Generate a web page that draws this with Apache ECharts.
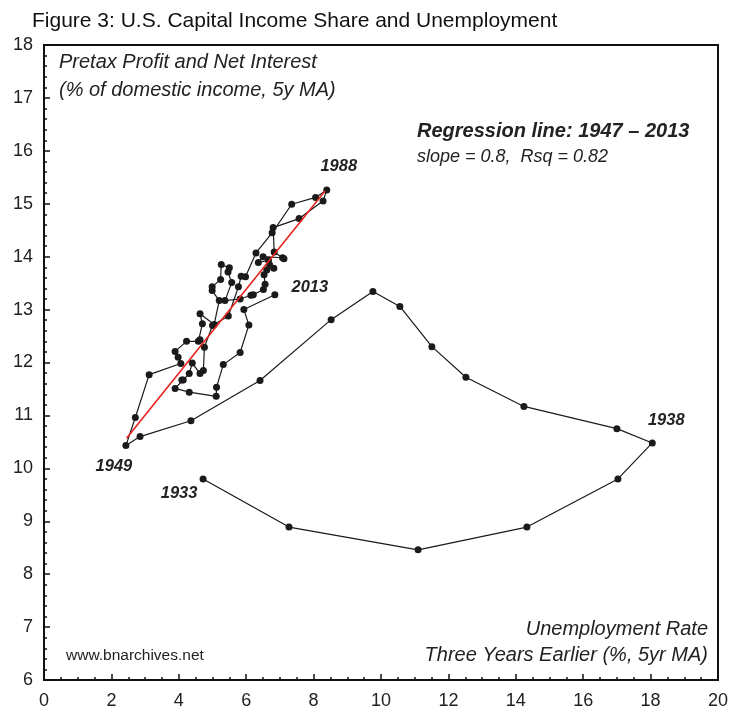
<!DOCTYPE html>
<html>
<head>
<meta charset="utf-8">
<script src="https://cdn.jsdelivr.net/npm/echarts@6/dist/echarts.min.js"></script>
<style>
  html, body { margin: 0; padding: 0; background: #fff; }
  #main { width: 732px; height: 715px; }
</style>
</head>
<body>
<div id="main"></div>
<script>
// years of the series (1933 - 2013)
var years = [1933, 1934, 1935, 1936, 1937, 1938, 1939, 1940, 1941, 1942,
  1943, 1944, 1945, 1946, 1947, 1948, 1949, 1950, 1951, 1952,
  1953, 1954, 1955, 1956, 1957, 1958, 1959, 1960, 1961, 1962,
  1963, 1964, 1965, 1966, 1967, 1968, 1969, 1970, 1971, 1972,
  1973, 1974, 1975, 1976, 1977, 1978, 1979, 1980, 1981, 1982,
  1983, 1984, 1985, 1986, 1987, 1988, 1989, 1990, 1991, 1992,
  1993, 1994, 1995, 1996, 1997, 1998, 1999, 2000, 2001, 2002,
  2003, 2004, 2005, 2006, 2007, 2008, 2009, 2010, 2011, 2012, 2013];

// unemployment rate three years earlier (%, 5yr MA)
var unemp = [4.72, 7.27, 11.1, 14.33, 17.03, 18.05, 17.0, 14.24, 12.52, 11.51,
  10.56, 9.76, 8.52, 6.41, 4.36, 2.85, 2.43, 2.71, 3.12, 4.06,
  3.98, 3.89, 4.23, 4.58, 4.63, 4.70, 4.63, 5.05, 5.20, 4.99,
  4.99, 5.24, 5.26, 5.50, 5.46, 5.57, 5.37, 5.82, 6.14, 6.21,
  6.51, 6.56, 6.53, 6.61, 6.82, 6.69, 6.66, 6.36, 6.50, 7.08,
  7.12, 6.83, 6.80, 7.57, 8.28, 8.39, 8.06, 7.35, 6.77, 6.29,
  5.98, 5.85, 5.77, 5.47, 5.00, 4.76, 4.73, 4.63, 4.40, 4.31,
  4.13, 4.09, 3.89, 4.31, 5.11, 5.12, 5.32, 5.82, 6.08, 5.93, 6.85];

// pretax profit and net interest (% of domestic income, 5y MA)
var capShare = [9.80, 8.89, 8.46, 8.89, 9.80, 10.48, 10.75, 11.17, 11.72, 12.30,
  13.06, 13.34, 12.81, 11.66, 10.90, 10.60, 10.43, 10.96, 11.77, 11.98,
  12.10, 12.21, 12.40, 12.40, 12.43, 12.73, 12.92, 12.72, 13.17, 13.36,
  13.43, 13.57, 13.85, 13.79, 13.71, 13.51, 13.17, 13.20, 13.27, 13.28,
  13.38, 13.48, 13.66, 13.75, 13.78, 13.85, 13.93, 13.89, 14.00, 13.98,
  13.96, 14.09, 14.55, 14.72, 15.05, 15.26, 15.12, 14.99, 14.45, 14.07,
  13.62, 13.63, 13.43, 12.88, 12.70, 12.29, 11.85, 11.79, 11.99, 11.79,
  11.67, 11.67, 11.51, 11.44, 11.36, 11.53, 11.96, 12.19, 12.71, 13.00, 13.28];

// regression line 1947 - 2013 (end points)
var regX = [2.45, 8.34];
var regY = [10.57, 15.24];

// years that get a label, with label offset
var labelYears = [1933, 1938, 1949, 1988, 2013];
var labelOffsets = {
  1933: [-24, 15],
  1938: [14, -22],
  1949: [-12, 21],
  1988: [12, -24],
  2013: [35, -7]
};

var xTicks = [0, 2, 4, 6, 8, 10, 12, 14, 16, 18, 20];
var yTicks = [6, 7, 8, 9, 10, 11, 12, 13, 14, 15, 16, 17, 18];

var FONT = 'Liberation Sans, Arial, Helvetica, sans-serif';

var pts = [];
for (var i = 0; i < years.length; i++) {
  var item = { value: [unemp[i], capShare[i], years[i]] };
  if (labelYears.indexOf(years[i]) >= 0) {
    item.label = {
      show: true,
      position: 'inside',
      offset: labelOffsets[years[i]],
      formatter: String(years[i]),
      fontFamily: FONT,
      fontStyle: 'italic',
      fontWeight: 'bold',
      fontSize: 16.5,
      color: '#222'
    };
  }
  pts.push(item);
}
var regLine = [];
for (var j = 0; j < regX.length; j++) regLine.push([regX[j], regY[j]]);

var myChart = echarts.init(document.getElementById('main'));
var option = {
  animation: false,
  backgroundColor: '#fff',
  title: {
    text: 'Figure 3: U.S. Capital Income Share and Unemployment',
    left: 27,
    top: 6,
    textStyle: { fontFamily: FONT, fontWeight: 'normal', fontSize: 21, color: '#111' }
  },
  grid: {
    left: 44, right: 14, top: 45, bottom: 35,
    show: true, borderColor: '#111', borderWidth: 2, backgroundColor: '#fff'
  },
  xAxis: {
    type: 'value',
    min: 0, max: 20, interval: 2,
    axisLine: { show: true, onZero: false, lineStyle: { color: '#111', width: 2 } },
    axisTick: { show: true, inside: true, length: 6, lineStyle: { color: '#111', width: 1.5 } },
    minorTick: { show: true, splitNumber: 4, length: 3, lineStyle: { color: '#111', width: 1.5 } },
    splitLine: { show: false },
    axisLabel: {
      margin: 12, fontFamily: FONT, fontSize: 18, color: '#222',
      formatter: function (v) { return xTicks.indexOf(v) >= 0 ? String(v) : ''; }
    }
  },
  yAxis: {
    type: 'value',
    min: 6, max: 18, interval: 1,
    axisLine: { show: true, onZero: false, lineStyle: { color: '#111', width: 2 } },
    axisTick: { show: true, inside: true, length: 6, lineStyle: { color: '#111', width: 1.5 } },
    minorTick: { show: true, splitNumber: 5, length: 3, lineStyle: { color: '#111', width: 1.5 } },
    splitLine: { show: false },
    axisLabel: {
      margin: 11, fontFamily: FONT, fontSize: 18, color: '#222',
      formatter: function (v) { return yTicks.indexOf(v) >= 0 ? String(v) : ''; }
    }
  },
  series: [
    {
      name: 'capital share',
      type: 'line',
      data: pts,
      symbol: 'circle',
      symbolSize: 7,
      itemStyle: { color: '#1a1a1a' },
      lineStyle: { color: '#1a1a1a', width: 1.2 },
      label: { show: false },
      z: 3
    },
    {
      name: 'regression',
      type: 'line',
      data: regLine,
      symbol: 'none',
      lineStyle: { color: '#e8231f', width: 1.6 },
      z: 4
    }
  ],
  graphic: [
    { type: 'text', left: 59, top: 52, style: { text: 'Pretax Profit and Net Interest', fontFamily: FONT, fontStyle: 'italic', fontSize: 20, fill: '#222' } },
    { type: 'text', left: 59, top: 80, style: { text: '(% of domestic income, 5y MA)', fontFamily: FONT, fontStyle: 'italic', fontSize: 20, fill: '#222' } },
    { type: 'text', left: 417, top: 121, style: { text: 'Regression line: 1947 \u2013 2013', fontFamily: FONT, fontStyle: 'italic', fontWeight: 'bold', fontSize: 20, fill: '#222' } },
    { type: 'text', left: 417, top: 148, style: { text: 'slope = 0.8,  Rsq = 0.82', fontFamily: FONT, fontStyle: 'italic', fontSize: 18, fill: '#222' } },
    { type: 'text', right: 24, top: 619, style: { text: 'Unemployment Rate', fontFamily: FONT, fontStyle: 'italic', fontSize: 20, fill: '#222', align: 'right' } },
    { type: 'text', right: 24, top: 645, style: { text: 'Three Years Earlier (%, 5yr MA)', fontFamily: FONT, fontStyle: 'italic', fontSize: 20, fill: '#222', align: 'right' } },
    { type: 'text', left: 66, top: 648, style: { text: 'www.bnarchives.net', fontFamily: FONT, fontSize: 15.5, fill: '#222' } }
  ]
};
myChart.setOption(option);
</script>
</body>
</html>
